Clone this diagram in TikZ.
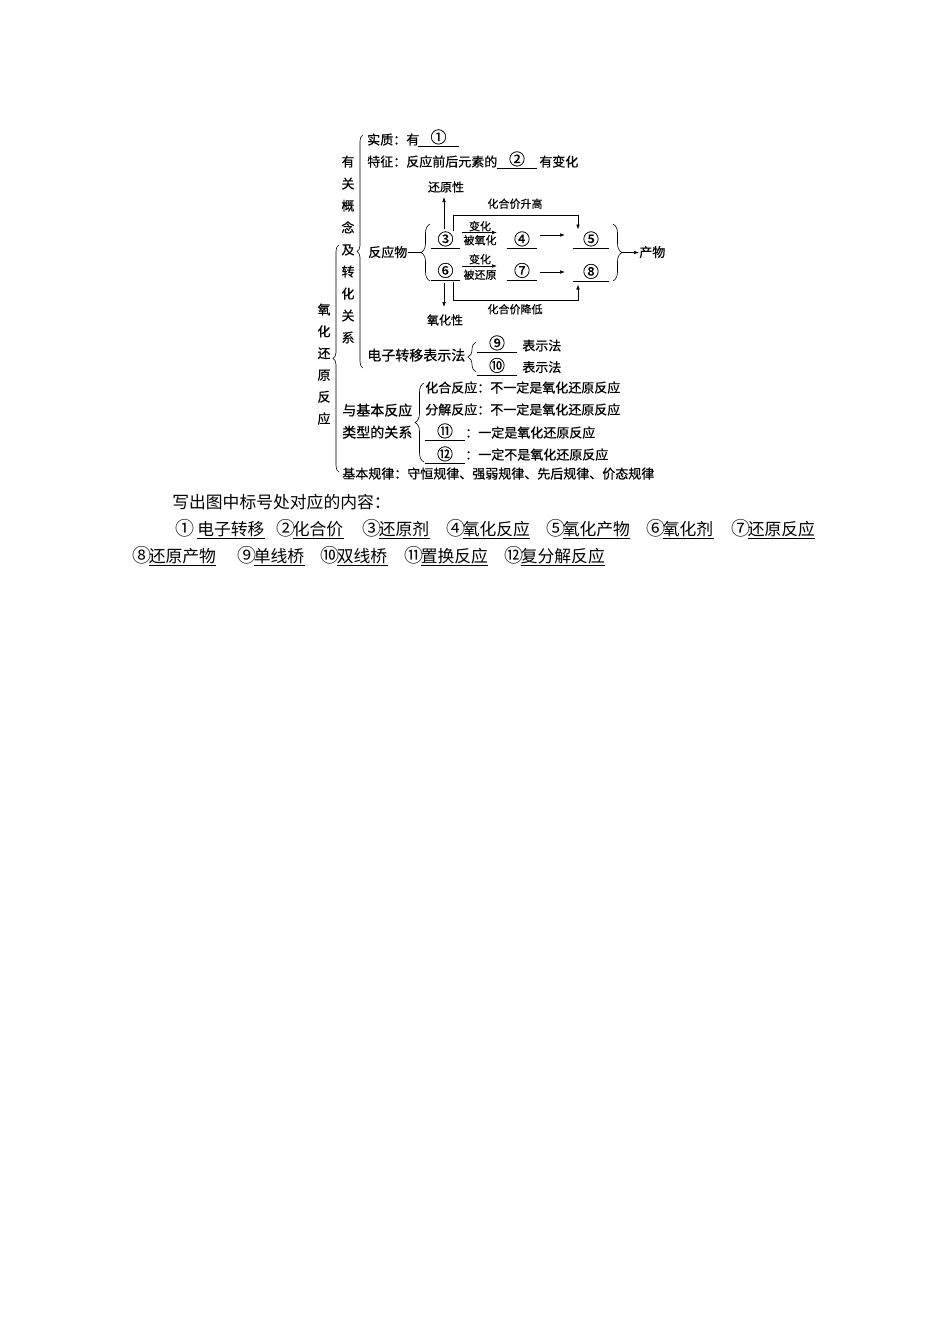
\documentclass[tikz,border=0pt]{standalone}
\usepackage{fontspec}
\setmainfont{Noto Sans CJK SC}
\newfontfamily\diagfont[FakeBold=0.5]{Noto Sans CJK SC}
\usetikzlibrary{arrows.meta,decorations.pathreplacing}
\newcommand\cnum[1]{\raisebox{1.5pt}{\fontsize{16}{16}\selectfont #1}}
\newcommand\bnum[1]{{\fontsize{19}{19}\selectfont #1}}
\newcommand\ansitem[6]{%
  \node[bottomtxt] (#1n) at (#2,#3) {\bnum{#4}};
  \node[bottomtxt] (#1t) at (#5,#3) {#6};
  \draw[uline] ([yshift=-0.5pt]#1t.south west) -- ([yshift=-0.5pt]#1t.south east);}
\begin{document}
\begin{tikzpicture}[x=1pt,y=-1pt,line width=0.6pt,
  txt/.style={inner sep=0pt,font=\diagfont\fontsize{13}{15}\selectfont,text height=10.5pt,text depth=1.5pt},
  txtw/.style={txt,anchor=west},
  widetxt/.style={txtw,font=\diagfont\fontsize{14}{16}\selectfont},
  smalltxt/.style={inner sep=0pt,font=\diagfont\fontsize{11}{13}\selectfont,text height=9pt,text depth=1.2pt},
  midtxt/.style={inner sep=0pt,font=\diagfont\fontsize{12}{14}\selectfont},
  blankbox/.style={txt,minimum width=#1},
  arrowline/.style={-{Latex[length=5pt,width=3.6pt]}},
  bracedec/.style={decorate,decoration={brace,amplitude=#1}},
  bottomtxt/.style={inner sep=0pt,anchor=west,font=\fontsize{16.8}{19}\selectfont,text height=13.5pt,text depth=2pt},
  uline/.style={line width=0.7pt}]
\path[use as bounding box,fill=white] (0,0) rectangle (950,1344);

% ---------- top entries ----------
\node[txtw] (shizhi) at (367,140) {实质：有};
\node[blankbox=41] (n1) at (438.5,140) {\cnum{①}};
\draw (n1.south west) -- (n1.south east);
\node[txtw] (tezheng) at (367,162) {特征：反应前后元素的};
\node[blankbox=40] (n2) at (517,162) {\cnum{②}};
\draw (n2.south west) -- (n2.south east);
\node[txtw] (youbian) at (539,162) {有变化};

% ---------- vertical labels ----------
\foreach \c [count=\i from 0] in {有,关,概,念,及,转,化,关,系}
  \node[txt] (va\i) at (348,{162+22*\i}) {\c};
\foreach \c [count=\i from 0] in {氧,化,还,原,反,应}
  \node[txt] (vb\i) at (324,{310+21.8*\i}) {\c};
\draw[bracedec=6] (363,368) -- (363,135);
\draw[bracedec=6] (339,472) -- (339,245);

% ---------- reactants ----------
\node[txtw] (fyw) at (368,252.5) {反应物};
\coordinate (lbtip) at (421,252.5);
\draw (fyw.east) -- (lbtip);
\draw[bracedec=9] (430,281) -- (430,224);

\node[blankbox=29] (n3) at (445.5,242) {\cnum{③}};
\node[blankbox=30] (n4) at (522,242) {\cnum{④}};
\node[blankbox=36] (n5) at (591,242) {\cnum{⑤}};
\node[blankbox=29] (n6) at (445.5,273.5) {\cnum{⑥}};
\node[blankbox=30] (n7) at (522,273.5) {\cnum{⑦}};
\node[blankbox=36] (n8) at (591,274.5) {\cnum{⑧}};
\foreach \n in {n3,n4,n5,n6,n7,n8}
  \draw (\n.south west) -- (\n.south east);

\node[smalltxt] (bh1) at (480,226.5) {变化};
\node[smalltxt] (byh) at (480,240.5) {被氧化};
\node[smalltxt] (bh2) at (480,259.5) {变化};
\node[smalltxt] (bhy) at (480,275) {被还原};
\coordinate (a1s) at (462,232.5);
\coordinate (a1e) at (497,232.5);
\coordinate (a2s) at (462,266);
\coordinate (a2e) at (497,266);
\draw[arrowline] (a1s) -- (a1e);
\draw[arrowline] (a2s) -- (a2e);

\coordinate (a3s) at (540,235);
\coordinate (a3e) at (565,235);
\coordinate (a4s) at (540,272);
\coordinate (a4e) at (565,272);
\draw[arrowline] (a3s) -- (a3e);
\draw[arrowline] (a4s) -- (a4e);

% reducing / oxidizing property
\node[midtxt] (hyx) at (446,187) {还原性};
\node[midtxt] (yhx) at (445,320) {氧化性};
\coordinate (u1) at (444,229);
\coordinate (u2) at (444,197);
\coordinate (d1) at (444,283);
\coordinate (d2) at (444,307);
\draw[arrowline] (u1) -- (u2);
\draw[arrowline] (d1) -- (d2);

% valence loops
\node[smalltxt] (sg) at (515,204) {化合价升高};
\node[smalltxt] (jd) at (515,309.5) {化合价降低};
\coordinate (l1) at (453,231);
\coordinate (l2) at (453,215);
\coordinate (l3) at (578,215);
\coordinate (l4) at (578,229.5);
\draw[arrowline] (l1) -- (l2) -- (l3) -- (l4);
\coordinate (m1) at (453,282);
\coordinate (m2) at (453,300);
\coordinate (m3) at (578,300);
\coordinate (m4) at (578,284.5);
\draw[arrowline] (m1) -- (m2) -- (m3) -- (m4);

% products
\draw[bracedec=9] (613,224) -- (613,281);
\coordinate (rbtip) at (622,252.5);
\node[txtw] (cw) at (639,252.5) {产物};
\draw[arrowline] (rbtip) -- (cw.west);

% ---------- electron transfer ----------
\node[widetxt] (dz) at (367,356) {电子转移表示法};
\draw[bracedec=8] (476,372) -- (476,342);
\node[blankbox=40] (n9) at (497,346) {\cnum{⑨}};
\node[txtw] (bsf1) at (522,346) {表示法};
\node[blankbox=40] (n10) at (497,368.5) {\cnum{⑩}};
\node[txtw] (bsf2) at (522,367.5) {表示法};
\draw (n9.south west) -- (n9.south east);
\draw (n10.south west) -- (n10.south east);

% ---------- basic reaction types ----------
\node[widetxt] (yj1) at (342,411) {与基本反应};
\node[widetxt] (yj2) at (342,433) {类型的关系};
\draw[bracedec=9] (424,462) -- (424,383);
\node[txtw] (hh) at (425,388) {化合反应：不一定是氧化还原反应};
\node[txtw] (fj) at (425,410) {分解反应：不一定是氧化还原反应};
\node[blankbox=40] (n11) at (445,434) {\cnum{⑪}};
\node[txtw] (yd1) at (465,433) {：一定是氧化还原反应};
\node[blankbox=40] (n12) at (445,457) {\cnum{⑫}};
\node[txtw] (yd2) at (465,455) {：一定不是氧化还原反应};
\draw (n11.south west) -- (n11.south east);
\draw (n12.south west) -- (n12.south east);

\node[txtw] (gl) at (342,474) {基本规律：守恒规律、强弱规律、先后规律、价态规律};

% ---------- answers ----------
\node[bottomtxt] (q) at (172,503) {写出图中标号处对应的内容：};
\ansitem{a1}{175}{530}{①}{197}{电子转移}
\ansitem{a2}{276}{530}{②}{292.5}{化合价}
\ansitem{a3}{362}{530}{③}{378.5}{还原剂}
\ansitem{a4}{446}{530}{④}{462.5}{氧化反应}
\ansitem{a5}{546}{530}{⑤}{562.5}{氧化产物}
\ansitem{a6}{646}{530}{⑥}{662.5}{氧化剂}
\ansitem{a7}{731}{530}{⑦}{747.5}{还原反应}
\ansitem{a8}{132}{557}{⑧}{148.5}{还原产物}
\ansitem{a9}{237}{557}{⑨}{253.5}{单线桥}
\ansitem{a10}{320}{557}{⑩}{336.5}{双线桥}
\ansitem{a11}{404}{557}{⑪}{420.5}{置换反应}
\ansitem{a12}{504}{557}{⑫}{520.5}{复分解反应}
\end{tikzpicture}
\end{document}
